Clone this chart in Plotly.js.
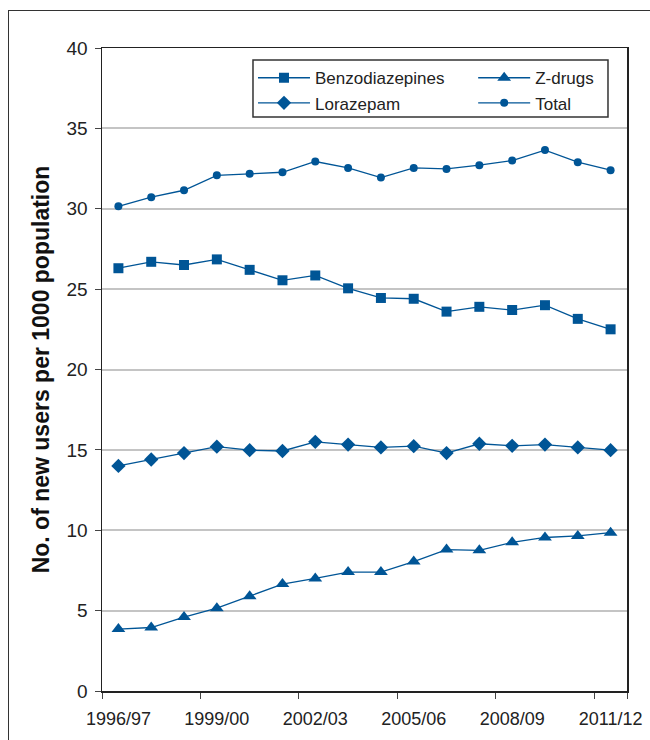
<!DOCTYPE html>
<html>
<head>
<meta charset="utf-8">
<script src="https://cdn.plot.ly/plotly-3.0.1.min.js"></script>
<style>
html, body { margin: 0; padding: 0; background: #fff; overflow: hidden; }
#wrap { position: relative; width: 650px; height: 740px; }
#frame { position: absolute; left: 8px; top: 10px; width: 700px; height: 800px;
  border-left: 1.5px solid #333; border-top: 1.5px solid #333; pointer-events: none; }
#chart { position: absolute; left: 0; top: 0; width: 650px; height: 740px; }
</style>
</head>
<body>
<div id="wrap">
<div id="frame"></div>
<div id="chart"></div>
</div>
<script>
var years = ["1996/97","1997/98","1998/99","1999/00","2000/01","2001/02","2002/03","2003/04",
             "2004/05","2005/06","2006/07","2007/08","2008/09","2009/10","2010/11","2011/12"];
var tickYears = ["1996/97","1999/00","2002/03","2005/06","2008/09","2011/12"];

var benzodiazepines = [26.3, 26.7, 26.5, 26.85, 26.2, 25.55, 25.85, 25.05, 24.45, 24.4, 23.6, 23.9, 23.7, 24.0, 23.15, 22.5];
var zdrugs = [3.85, 3.95, 4.6, 5.15, 5.9, 6.65, 7.0, 7.4, 7.4, 8.05, 8.8, 8.75, 9.25, 9.55, 9.65, 9.85];
var lorazepam = [14.0, 14.4, 14.8, 15.2, 14.98, 14.93, 15.5, 15.33, 15.15, 15.23, 14.8, 15.38, 15.25, 15.33, 15.15, 14.98];
var total = [30.15, 30.72, 31.15, 32.08, 32.17, 32.27, 32.94, 32.54, 31.94, 32.54, 32.48, 32.71, 33.0, 33.65, 32.9, 32.4];

var blue = "#005596";
function tr(name, y, symbol, size, legend) {
  return {
    type: "scatter", mode: "lines+markers", name: name, x: years, y: y, legend: legend,
    line: {color: blue, width: 1.3},
    marker: {color: blue, symbol: symbol, size: size, line: {width: 0}}
  };
}
var data = [
  tr("Benzodiazepines", benzodiazepines, "square", 10, "legend"),
  tr("Z-drugs", zdrugs, "triangle-up", 12, "legend2"),
  tr("Lorazepam", lorazepam, "diamond", 11, "legend"),
  tr("Total", total, "circle", 8, "legend2")
];

var legendBase = {
  orientation: "v", yanchor: "top", xanchor: "left",
  bgcolor: "rgba(0,0,0,0)", borderwidth: 0,
  font: {size: 17, color: "#222"}, itemwidth: 52, traceorder: "normal",
  tracegroupgap: 0
};

var layout = {
  width: 650, height: 740,
  margin: {l: 102, r: 23, t: 48, b: 49},
  paper_bgcolor: "rgba(0,0,0,0)",
  plot_bgcolor: "#fff",
  font: {family: "Liberation Sans, Arial, sans-serif", color: "#222"},
  showlegend: true,
  legend: Object.assign({}, legendBase, {x: 0.2876, y: 0.981}),
  legend2: Object.assign({}, legendBase, {x: 0.707, y: 0.981}),
  shapes: [{
    type: "rect", xref: "paper", yref: "paper",
    x0: 0.2876, x1: 0.9638, y0: 0.8927, y1: 0.9813,
    line: {color: "#333", width: 1.5}, fillcolor: "#fff", layer: "below"
  }],
  xaxis: {
    type: "category", range: [-0.5, 15.5],
    tickmode: "array", tickvals: tickYears, ticktext: tickYears, tickangle: 0,
    tickson: "boundaries", ticks: "outside", ticklen: 6, tickcolor: "#444", tickwidth: 1,
    tickfont: {size: 18, color: "#222"}, ticklabelstandoff: 11,
    showgrid: false, showline: true, linecolor: "#222", linewidth: 1.5, mirror: true,
    zeroline: false, fixedrange: true
  },
  yaxis: {
    range: [0, 40], tickvals: [0,5,10,15,20,25,30,35,40],
    ticks: "outside", ticklen: 6, tickcolor: "#444", tickwidth: 1,
    tickfont: {size: 19, color: "#222"}, ticklabelstandoff: 3,
    showgrid: true, gridcolor: "#c4c4c4", gridwidth: 2,
    showline: true, linecolor: "#222", linewidth: 1.5, mirror: true,
    zeroline: false, fixedrange: true,
    title: {text: "No. of new users per 1000 population", font: {size: 23, color: "#111", weight: "bold"}, standoff: 10}
  }
};
Plotly.newPlot("chart", data, layout, {displayModeBar: false, staticPlot: true});
</script>
</body>
</html>
